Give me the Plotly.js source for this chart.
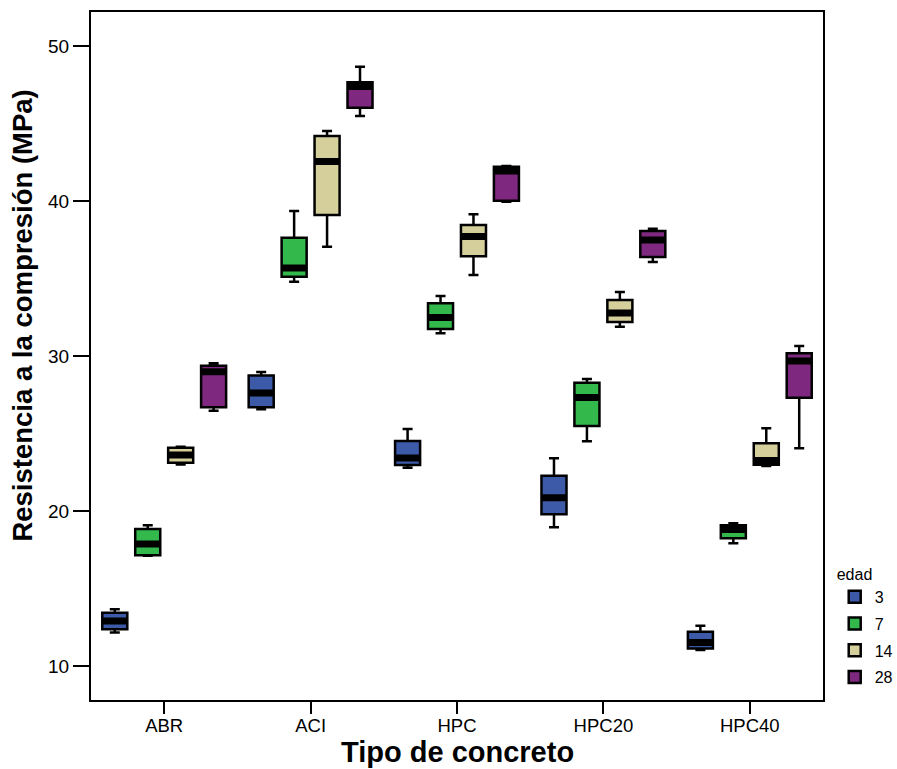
<!DOCTYPE html>
<html>
<head>
<meta charset="utf-8">
<script src="https://cdn.plot.ly/plotly-3.0.1.min.js"></script>
<style>
  html, body { margin: 0; padding: 0; background: #fff; }
  #chart { width: 897px; height: 769px; }
</style>
</head>
<body>
<div id="chart"></div>
<script>
// Tipo de concreto (x categories)
const categories = ['ABR', 'ACI', 'HPC', 'HPC20', 'HPC40'];

// Edad (días) used as the box series
const edades = ['3', '7', '14', '28'];

// Resistencia a la compresión (MPa), five-number summaries per edad
const lower3  = [12.17, 26.56, 22.79, 18.95, 11.03];
const q1_3    = [12.37, 26.69, 22.97, 19.79, 11.14];
const med3    = [12.90, 27.61, 23.42, 20.85, 11.52];
const q3_3    = [13.44, 28.75, 24.52, 22.28, 12.21];
const upper3  = [13.66, 28.97, 25.29, 23.40, 12.60];

const lower7  = [17.12, 34.79, 31.46, 24.50, 17.92];
const q1_7    = [17.14, 35.12, 31.74, 25.48, 18.24];
const med7    = [17.88, 35.68, 32.48, 27.32, 18.81];
const q3_7    = [18.84, 37.63, 33.40, 28.28, 19.08];
const upper7  = [19.08, 39.35, 33.87, 28.52, 19.21];

const lower14 = [23.00, 37.05, 35.23, 31.89, 22.90];
const q1_14   = [23.12, 39.10, 36.43, 32.19, 22.99];
const med14   = [23.61, 42.55, 37.71, 32.77, 23.26];
const q3_14   = [24.08, 44.19, 38.45, 33.61, 24.37];
const upper14 = [24.15, 44.52, 39.14, 34.13, 25.34];

const lower28 = [26.47, 45.48, 39.95, 36.06, 24.05];
const q1_28   = [26.69, 46.02, 40.02, 36.39, 27.31];
const med28   = [28.99, 47.39, 41.94, 37.48, 29.68];
const q3_28   = [29.37, 47.66, 42.21, 38.06, 30.17];
const upper28 = [29.53, 48.66, 42.25, 38.21, 30.65];

const yTicks = [10, 20, 30, 40, 50];

const stats = {
  '3':  { lower: lower3,  q1: q1_3,  med: med3,  q3: q3_3,  upper: upper3 },
  '7':  { lower: lower7,  q1: q1_7,  med: med7,  q3: q3_7,  upper: upper7 },
  '14': { lower: lower14, q1: q1_14, med: med14, q3: q3_14, upper: upper14 },
  '28': { lower: lower28, q1: q1_28, med: med28, q3: q3_28, upper: upper28 }
};

const fills = { '3': '#3d5aa9', '7': '#33b84b', '14': '#d4cf9b', '28': '#7e287f' };

const FONT = '"Liberation Sans", Arial, Helvetica, sans-serif';

const traces = [];

// Boxes with whiskers
edades.forEach(e => {
  const s = stats[e];
  traces.push({
    type: 'box',
    name: e,
    x: categories,
    q1: s.q1, median: s.med, q3: s.q3,
    lowerfence: s.lower, upperfence: s.upper,
    offsetgroup: e,
    legendgroup: e,
    fillcolor: fills[e],
    line: { color: '#000', width: 2.5 },
    whiskerwidth: 0.4,
    boxpoints: false,
    hoverinfo: 'skip'
  });
});

// Thick median bands drawn over each box
edades.forEach(e => {
  const s = stats[e];
  traces.push({
    type: 'box',
    name: e,
    x: categories,
    q1: s.med, median: s.med, q3: s.med,
    lowerfence: s.med, upperfence: s.med,
    offsetgroup: e,
    legendgroup: e,
    showlegend: false,
    fillcolor: '#000',
    line: { color: '#000', width: 7 },
    whiskerwidth: 0,
    boxpoints: false,
    hoverinfo: 'skip'
  });
});

const layout = {
  width: 897,
  height: 769,
  margin: { l: 91, r: 74, t: 12, b: 69, pad: 0, autoexpand: false },
  paper_bgcolor: '#fff',
  plot_bgcolor: '#fff',
  font: { family: FONT, color: '#000', size: 19 },
  boxmode: 'group',
  boxgap: 0.1,
  boxgroupgap: 0.24,
  showlegend: true,
  legend: {
    x: 1.016, xanchor: 'left',
    y: 0.205, yanchor: 'top',
    bgcolor: 'rgba(0,0,0,0)',
    borderwidth: 0,
    tracegroupgap: 3,
    font: { family: FONT, size: 16, color: '#000' },
    title: { text: 'edad', font: { family: FONT, size: 16, color: '#000' } }
  },
  xaxis: {
    type: 'category',
    categoryorder: 'array',
    categoryarray: categories,
    showline: true, mirror: true, linewidth: 2, linecolor: '#000',
    ticks: 'outside', ticklen: 12, tickwidth: 2, tickcolor: '#000',
    ticklabelstandoff: -4,
    showgrid: false, zeroline: false,
    tickfont: { family: FONT, size: 18.5, color: '#000' }
  },
  yaxis: {
    range: [7.81, 52.19],
    tickvals: yTicks,
    ticktext: yTicks.map(String),
    showline: true, mirror: true, linewidth: 2, linecolor: '#000',
    ticks: 'outside', ticklen: 16, tickwidth: 2, tickcolor: '#000',
    showgrid: false, zeroline: false,
    tickfont: { family: FONT, size: 19, color: '#000' }
  },
  annotations: [
    {
      // y axis title
      text: 'Resistencia a la compresión (MPa)',
      xref: 'paper', yref: 'paper',
      x: -0.094, y: 0.559,
      xanchor: 'center', yanchor: 'middle',
      textangle: -90,
      showarrow: false,
      font: { family: FONT, size: 27.5, weight: 'bold', color: '#000' }
    },
    {
      // x axis title
      text: 'Tipo de concreto',
      xref: 'paper', yref: 'paper',
      x: 0.5, y: -0.075,
      xanchor: 'center', yanchor: 'middle',
      showarrow: false,
      font: { family: FONT, size: 29, weight: 'bold', color: '#000' }
    }
  ]
};

Plotly.newPlot('chart', traces, layout, { staticPlot: true, displayModeBar: false });
</script>
</body>
</html>
